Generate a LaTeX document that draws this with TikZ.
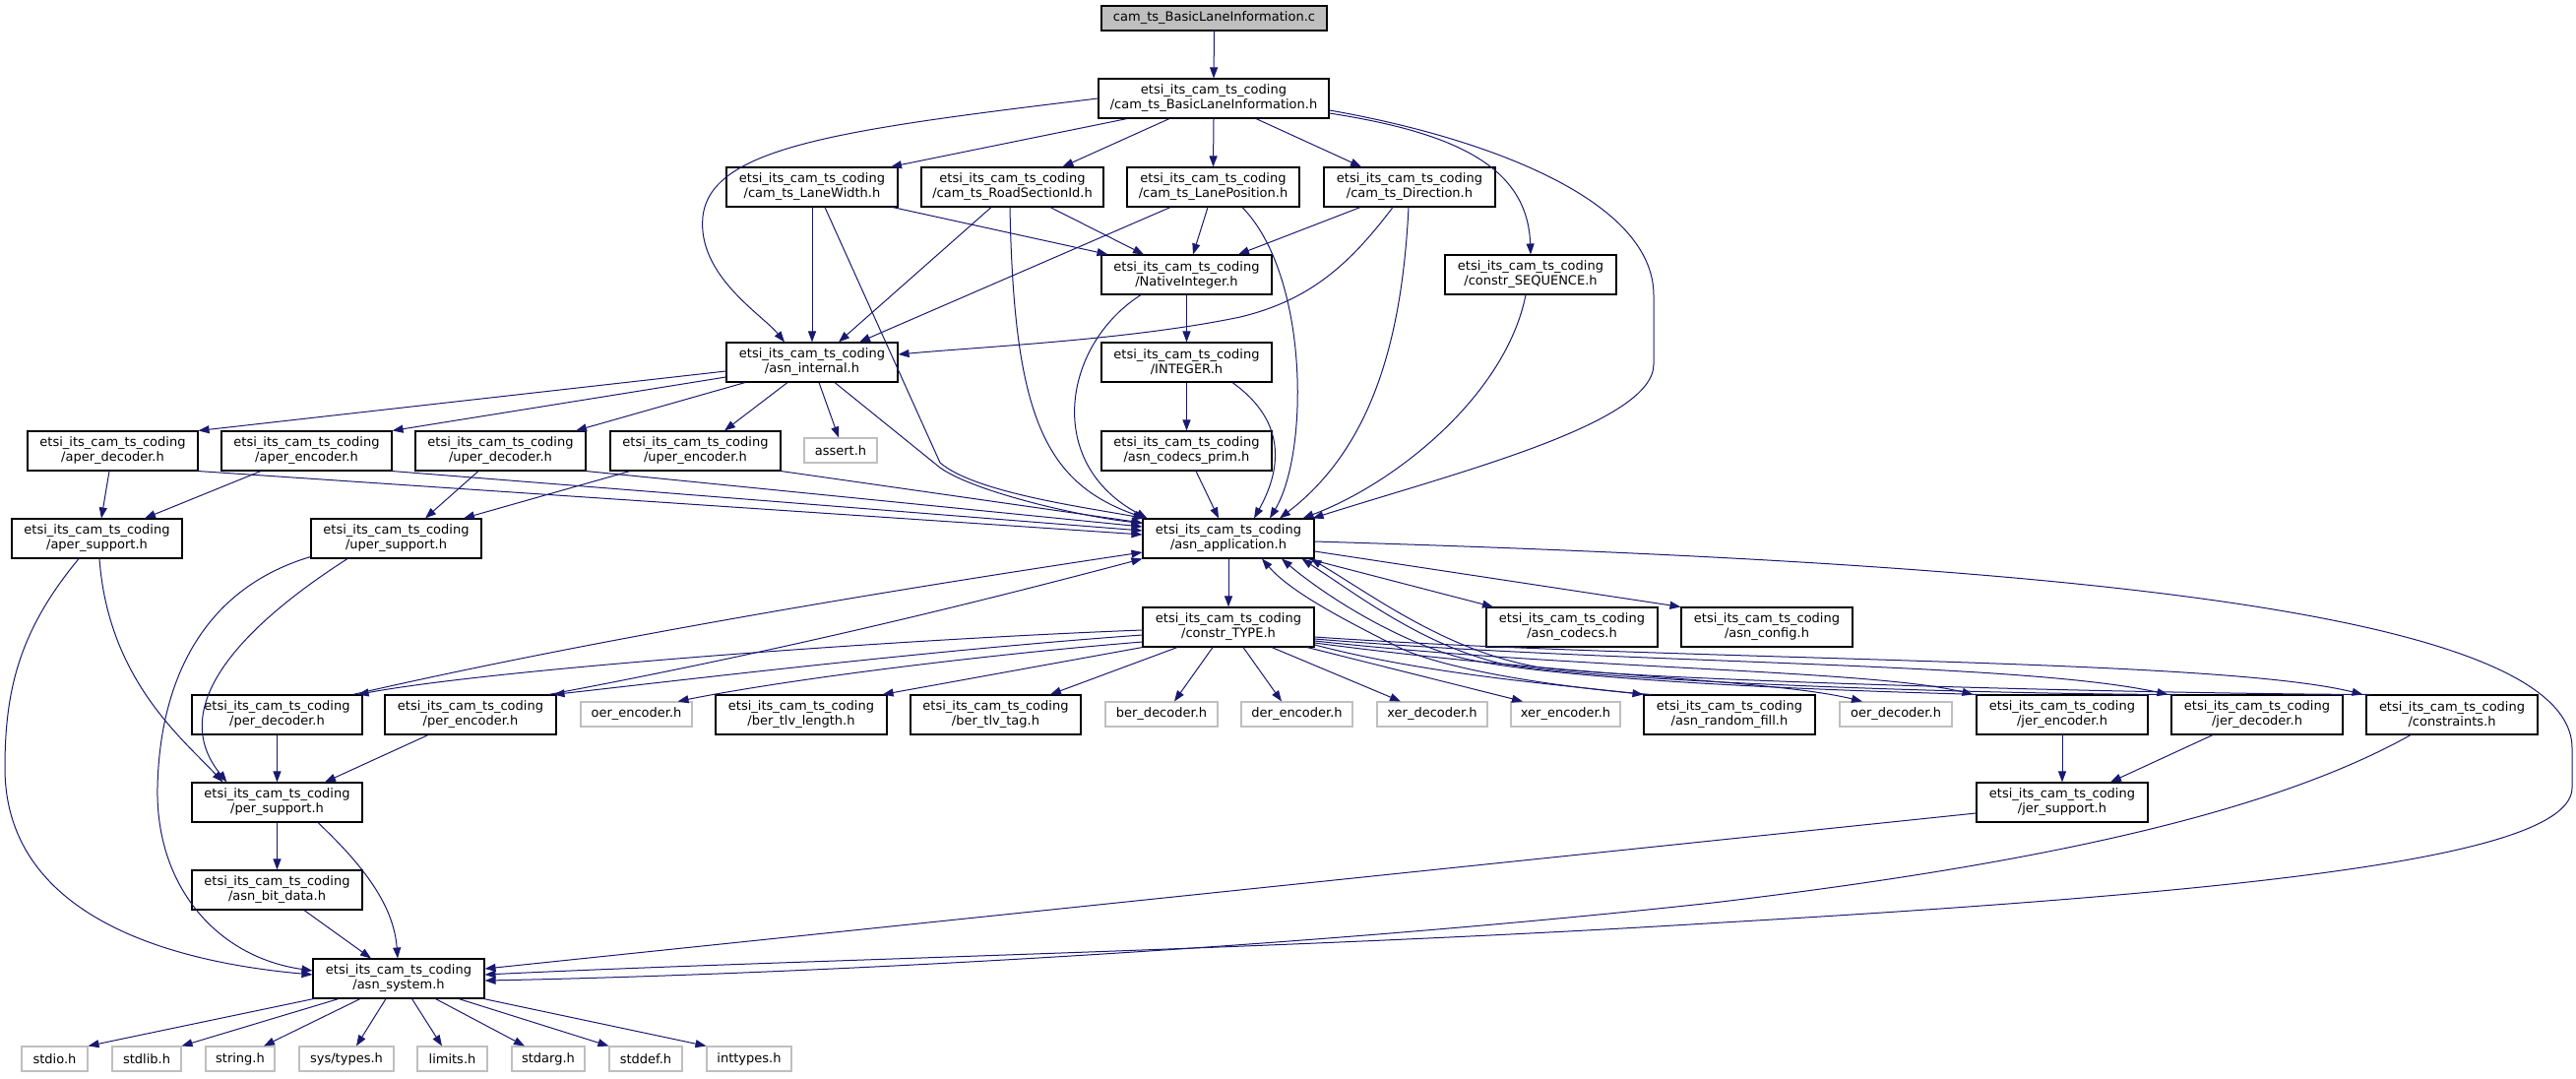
\documentclass[tikz,border=0pt]{standalone}
\usepackage{fontspec}
\setmainfont{DejaVu Sans}
\usetikzlibrary{arrows.meta}
\definecolor{edgeblue}{HTML}{191970}
\definecolor{lgray}{HTML}{BFBFBF}
\newcommand{\etsi}{etsi\_its\_cam\_ts\_coding\\}
\newcommand{\bx}[7]{\node[#6, minimum width={#4pt-#2pt}, minimum height={#5pt-#3pt}] (#1) at ({(#2+#4)/2},{(#3+#5)/2}) {#7};}
\begin{document}
\begin{tikzpicture}[x=1pt,y=-1pt,
  box/.style={draw=black, line width=1.1pt, fill=white, inner sep=0pt, align=center, font=\fontsize{13}{15}\selectfont},
  gbox/.style={box, draw=lgray},
  rbox/.style={box, fill=lgray},
  dep/.style={draw=edgeblue, line width=1pt, -{Triangle[length=11pt,width=8pt]}}]
\useasboundingbox (0,0) rectangle (2617,1095);
% nodes
\bx{root}{1119}{6}{1348}{31}{rbox}{cam\_ts\_BasicLaneInformation.c}
\bx{bli}{1116}{80}{1350}{120}{box}{\etsi/cam\_ts\_BasicLaneInformation.h}
\bx{lw}{738}{170}{912}{210}{box}{\etsi/cam\_ts\_LaneWidth.h}
\bx{rs}{936}{170}{1121}{210}{box}{\etsi/cam\_ts\_RoadSectionId.h}
\bx{lp}{1145}{170}{1320}{210}{box}{\etsi/cam\_ts\_LanePosition.h}
\bx{dir}{1345}{170}{1519}{210}{box}{\etsi/cam\_ts\_Direction.h}
\bx{ni}{1119}{259}{1292}{299}{box}{\etsi/NativeInteger.h}
\bx{seq}{1468}{259}{1642}{299}{box}{\etsi/constr\_SEQUENCE.h}
\bx{ai}{738}{348}{912}{388}{box}{\etsi/asn\_internal.h}
\bx{int}{1119}{348}{1292}{388}{box}{\etsi/INTEGER.h}
\bx{ad}{28}{438}{201}{478}{box}{\etsi/aper\_decoder.h}
\bx{ae}{225}{438}{398}{478}{box}{\etsi/aper\_encoder.h}
\bx{ud}{422}{438}{595}{478}{box}{\etsi/uper\_decoder.h}
\bx{ue}{620}{438}{793}{478}{box}{\etsi/uper\_encoder.h}
\bx{assert}{817}{445}{891}{470}{gbox}{assert.h}
\bx{acp}{1119}{438}{1292}{478}{box}{\etsi/asn\_codecs\_prim.h}
\bx{as}{12}{527}{185}{567}{box}{\etsi/aper\_support.h}
\bx{us}{316}{527}{489}{567}{box}{\etsi/uper\_support.h}
\bx{app}{1161}{527}{1335}{567}{box}{\etsi/asn\_application.h}
\bx{ct}{1161}{617}{1335}{657}{box}{\etsi/constr\_TYPE.h}
\bx{codecs}{1510}{617}{1684}{657}{box}{\etsi/asn\_codecs.h}
\bx{config}{1708}{617}{1882}{657}{box}{\etsi/asn\_config.h}
\bx{pd}{195}{706}{368}{746}{box}{\etsi/per\_decoder.h}
\bx{pe}{391}{706}{565}{746}{box}{\etsi/per\_encoder.h}
\bx{oe}{590}{713}{703}{738}{gbox}{oer\_encoder.h}
\bx{btl}{727}{706}{901}{746}{box}{\etsi/ber\_tlv\_length.h}
\bx{btt}{925}{706}{1098}{746}{box}{\etsi/ber\_tlv\_tag.h}
\bx{bd}{1123}{713}{1237}{738}{gbox}{ber\_decoder.h}
\bx{de}{1261}{713}{1374}{738}{gbox}{der\_encoder.h}
\bx{xd}{1399}{713}{1511}{738}{gbox}{xer\_decoder.h}
\bx{xe}{1535}{713}{1646}{738}{gbox}{xer\_encoder.h}
\bx{rf}{1670}{706}{1844}{746}{box}{\etsi/asn\_random\_fill.h}
\bx{od}{1869}{713}{1983}{738}{gbox}{oer\_decoder.h}
\bx{je}{2008}{706}{2182}{746}{box}{\etsi/jer\_encoder.h}
\bx{jd}{2206}{706}{2380}{746}{box}{\etsi/jer\_decoder.h}
\bx{cons}{2404}{706}{2578}{746}{box}{\etsi/constraints.h}
\bx{ps}{195}{795}{368}{835}{box}{\etsi/per\_support.h}
\bx{js}{2008}{795}{2182}{835}{box}{\etsi/jer\_support.h}
\bx{bit}{195}{884}{368}{924}{box}{\etsi/asn\_bit\_data.h}
\bx{sys}{318}{974}{492}{1014}{box}{\etsi/asn\_system.h}
\bx{stdio}{22}{1063}{89}{1088}{gbox}{stdio.h}
\bx{stdlib}{114}{1063}{184}{1088}{gbox}{stdlib.h}
\bx{string}{209}{1063}{279}{1088}{gbox}{string.h}
\bx{systypes}{304}{1063}{400}{1088}{gbox}{sys/types.h}
\bx{limits}{424}{1063}{495}{1088}{gbox}{limits.h}
\bx{stdarg}{520}{1063}{594}{1088}{gbox}{stdarg.h}
\bx{stddef}{619}{1063}{693}{1088}{gbox}{stddef.h}
\bx{inttypes}{718}{1063}{804}{1088}{gbox}{inttypes.h}
% edges from root / bli
\draw[dep] (root.south) -- (bli.north);
\draw[dep] (bli.west) .. controls (850,132) and (722,150) .. (714,220) .. controls (708,280) and (775,320) .. ([xshift=-28pt]ai.north);
\draw[dep] ([xshift=-88pt]bli.south) -- ([xshift=80pt]lw.north);
\draw[dep] ([xshift=-45pt]bli.south) -- ([xshift=51pt]rs.north);
\draw[dep] ([xshift=0pt]bli.south) -- (lp.north);
\draw[dep] ([xshift=43pt]bli.south) -- ([xshift=-49pt]dir.north);
\draw[dep] ([yshift=-15pt]bli.east) .. controls (1480,135) and (1552,170) .. (seq.north);
\draw[dep] ([yshift=-12pt]bli.east) .. controls (1500,138) and (1680,200) .. (1680,300) -- (1680,370) .. controls (1680,430) and (1480,480) .. ([xshift=-2pt]app.north east);
% LaneWidth
\draw[dep] (lw.south) -- (ai.north);
\draw[dep] ([xshift=82pt]lw.south) -- ([xshift=-80pt]ni.north);
\draw[dep] ([xshift=13pt]lw.south) -- (955,470) .. controls (990,500) and (1100,515) .. ([xshift=2pt]app.north west);
% RoadSectionId
\draw[dep] ([xshift=-21.5pt]rs.south) -- ([xshift=27pt]ai.north);
\draw[dep] ([xshift=38.5pt]rs.south) -- ([xshift=-43.5pt]ni.north);
\draw[dep] ([xshift=-2.5pt]rs.south) .. controls (1030,420) and (1060,490) .. ([xshift=3pt]app.north west);
% LanePosition
\draw[dep] ([xshift=-5.5pt]lp.south) -- ([xshift=6.5pt]ni.north);
\draw[dep] ([xshift=-43.5pt]lp.south) -- ([xshift=48pt]ai.north);
\draw[dep] ([xshift=29.5pt]lp.south) .. controls (1330,280) and (1330,460) .. ([xshift=42pt]app.north);
% Direction
\draw[dep] ([xshift=-50pt]dir.south) -- ([xshift=52.5pt]ni.north);
\draw[dep] ([xshift=-17pt]dir.south) .. controls (1370,270) and (1330,305) .. (1260,322) .. controls (1150,345) and (1000,352) .. ([yshift=8pt]ai.east);
\draw[dep] ([xshift=-1pt]dir.south) .. controls (1425,330) and (1400,450) .. ([xshift=52pt]app.north);
% NativeInteger, INTEGER, prim, SEQUENCE
\draw[dep] (ni.south) -- (int.north);
\draw[dep] ([xshift=-46.5pt]ni.south) .. controls (1080,350) and (1060,470) .. ([xshift=5pt]app.north west);
\draw[dep] (int.south) -- (acp.north);
\draw[dep] ([xshift=46.5pt]int.south) .. controls (1310,430) and (1300,480) .. ([xshift=26pt]app.north);
\draw[dep] ([xshift=9.5pt]acp.south) -- ([xshift=-10pt]app.north);
\draw[dep] ([xshift=-5pt]seq.south) .. controls (1530,400) and (1420,490) .. ([xshift=-12pt]app.north east);
% asn_internal
\draw[dep] ([yshift=-9pt]ai.west) -- (ad.north east);
\draw[dep] ([yshift=-15pt]ai.west) -- (ae.north east);
\draw[dep] ([xshift=-68pt]ai.south) -- ([xshift=76.5pt]ud.north);
\draw[dep] ([xshift=-25pt]ai.south) -- ([xshift=29.5pt]ue.north);
\draw[dep] ([xshift=7pt]ai.south) -- ([xshift=-2pt]assert.north);
\draw[dep] ([xshift=23pt]ai.south) -- (955,475) .. controls (990,500) and (1100,525) .. ([yshift=-5pt]app.north west);
% aper/uper coders
\draw[dep] ([xshift=-3.5pt]ad.south) -- ([xshift=4.5pt]as.north);
\draw[dep] (ad.south east) -- ([yshift=4pt]app.west);
\draw[dep] ([xshift=-46.5pt]ae.south) -- ([xshift=48.5pt]as.north);
\draw[dep] (ae.south east) -- ([yshift=8pt]app.west);
\draw[dep] ([xshift=-22.5pt]ud.south) -- ([xshift=29.5pt]us.north);
\draw[dep] (ud.south east) -- ([yshift=12pt]app.west);
\draw[dep] ([xshift=-66.5pt]ue.south) -- ([xshift=68.5pt]us.north);
\draw[dep] (ue.south east) -- ([yshift=16pt]app.west);
% supports
\draw[dep] ([xshift=2.5pt]as.south) .. controls (110,690) and (185,750) .. ([xshift=-55pt]ps.north);
\draw[dep] ([xshift=-18.5pt]as.south) .. controls (20,640) and (5,700) .. (5,780) .. controls (5,920) and (150,975) .. ([yshift=4pt]sys.west);
\draw[dep] ([xshift=-49.5pt]us.south) .. controls (240,640) and (170,720) .. ([xshift=-51pt]ps.north);
\draw[dep] ([yshift=2pt]us.south west) .. controls (200,600) and (162,700) .. (160,800) .. controls (158,900) and (220,972) .. ([yshift=8pt]sys.west);
\draw[dep] (pd.south) -- (ps.north);
\draw[dep] ([xshift=-43pt]pe.south) -- ([xshift=48.5pt]ps.north);
\draw[dep] (ps.south) -- (bit.north);
\draw[dep] ([xshift=41.5pt]ps.south) .. controls (370,880) and (400,920) .. ([xshift=-1pt]sys.north);
\draw[dep] ([xshift=27.5pt]bit.south) -- ([xshift=-28pt]sys.north);
% asn_system to std headers
\draw[dep] ([xshift=-86.5pt]sys.south) -- (stdio.north east);
\draw[dep] ([xshift=-61pt]sys.south) -- (stdlib.north east);
\draw[dep] ([xshift=-39pt]sys.south) -- ([xshift=24pt]string.north);
\draw[dep] ([xshift=-13pt]sys.south) -- ([xshift=10pt]systypes.north);
\draw[dep] ([xshift=13.5pt]sys.south) -- ([xshift=-10.5pt]limits.north);
\draw[dep] ([xshift=37.5pt]sys.south) -- ([xshift=-24pt]stdarg.north);
\draw[dep] ([xshift=61pt]sys.south) -- (stddef.north west);
\draw[dep] ([xshift=86.5pt]sys.south) -- (inttypes.north west);
% asn_application
\draw[dep] (app.south) -- (ct.north);
\draw[dep] ([xshift=-7pt]app.south east) -- ([xshift=-80pt]codecs.north);
\draw[dep] ([yshift=-13pt]app.east) -- (config.north west);
\draw[dep] ([yshift=-3pt]app.east) .. controls (2000,570) and (2613,610) .. (2613,760) -- (2613,800) .. controls (2613,870) and (2300,905) .. (1750,937) .. controls (1300,965) and (800,975) .. ([yshift=4pt]sys.east);
% constr_TYPE
\draw[dep] ([yshift=-3pt]ct.west) .. controls (900,650) and (500,680) .. ([xshift=-5pt]pd.north east);
\draw[dep] ([yshift=-8pt]ct.west) .. controls (950,660) and (700,690) .. ([xshift=-3pt]pe.north east);
\draw[dep] ([yshift=-15pt]ct.west) .. controls (1000,665) and (800,690) .. ([xshift=42pt]oe.north);
\draw[dep] (ct.south west) -- ([xshift=-5pt]btl.north east);
\draw[dep] ([xshift=-52pt]ct.south) -- ([xshift=55.5pt]btt.north);
\draw[dep] ([xshift=-16pt]ct.south) -- ([xshift=13pt]bd.north);
\draw[dep] ([xshift=15pt]ct.south) -- ([xshift=-15.5pt]de.north);
\draw[dep] ([xshift=44pt]ct.south) -- ([xshift=-32pt]xd.north);
\draw[dep] ([xshift=80pt]ct.south) -- ([xshift=-43.5pt]xe.north);
\draw[dep] ([yshift=-18pt]ct.east) .. controls (1450,685) and (1580,695) .. (rf.north west);
\draw[dep] ([yshift=-16pt]ct.east) .. controls (1600,688) and (1800,690) .. ([xshift=-34pt]od.north);
\draw[dep] ([yshift=-14pt]ct.east) .. controls (1600,680) and (1900,680) .. ([xshift=-3pt]je.north west);
\draw[dep] ([yshift=-12pt]ct.east) .. controls (1650,675) and (2050,672) .. ([xshift=-3pt]jd.north west);
\draw[dep] ([yshift=-10pt]ct.east) .. controls (1700,672) and (2250,668) .. ([xshift=-3pt]cons.north west);
% back edges to asn_application
\draw[dep] ([xshift=-10pt]pd.north east) .. controls (600,650) and (900,600) .. ([yshift=-14pt]app.west);
\draw[dep] ([xshift=-8pt]pe.north east) .. controls (800,660) and (1000,610) .. (app.south west);
\draw[dep] ([xshift=8pt]rf.north west) .. controls (1600,700) and (1470,682) .. (1420,657) .. controls (1360,627) and (1310,600) .. ([xshift=34pt]app.south);
\draw[dep] ([xshift=5pt]je.north west) .. controls (1800,700) and (1560,688) .. (1480,667) .. controls (1410,647) and (1340,600) .. ([xshift=54pt]app.south);
\draw[dep] ([xshift=5pt]jd.north west) .. controls (2000,705) and (1620,692) .. (1525,674) .. controls (1445,655) and (1380,605) .. ([xshift=-13pt]app.south east);
\draw[dep] ([xshift=5pt]cons.north west) .. controls (2200,705) and (1680,692) .. (1565,678) .. controls (1470,662) and (1395,605) .. ([xshift=-4pt]app.south east);
% jer
\draw[dep] (je.south) -- (js.north);
\draw[dep] ([xshift=-45pt]jd.south) -- ([xshift=49pt]js.north);
\draw[dep] ([yshift=-11pt]js.west) -- ([yshift=10pt]sys.east);
\draw[dep] ([xshift=-42pt]cons.south) .. controls (2300,830) and (2050,880) .. (1740,917) .. controls (1300,965) and (800,990) .. ([yshift=-2pt]sys.east);
\end{tikzpicture}
\end{document}
